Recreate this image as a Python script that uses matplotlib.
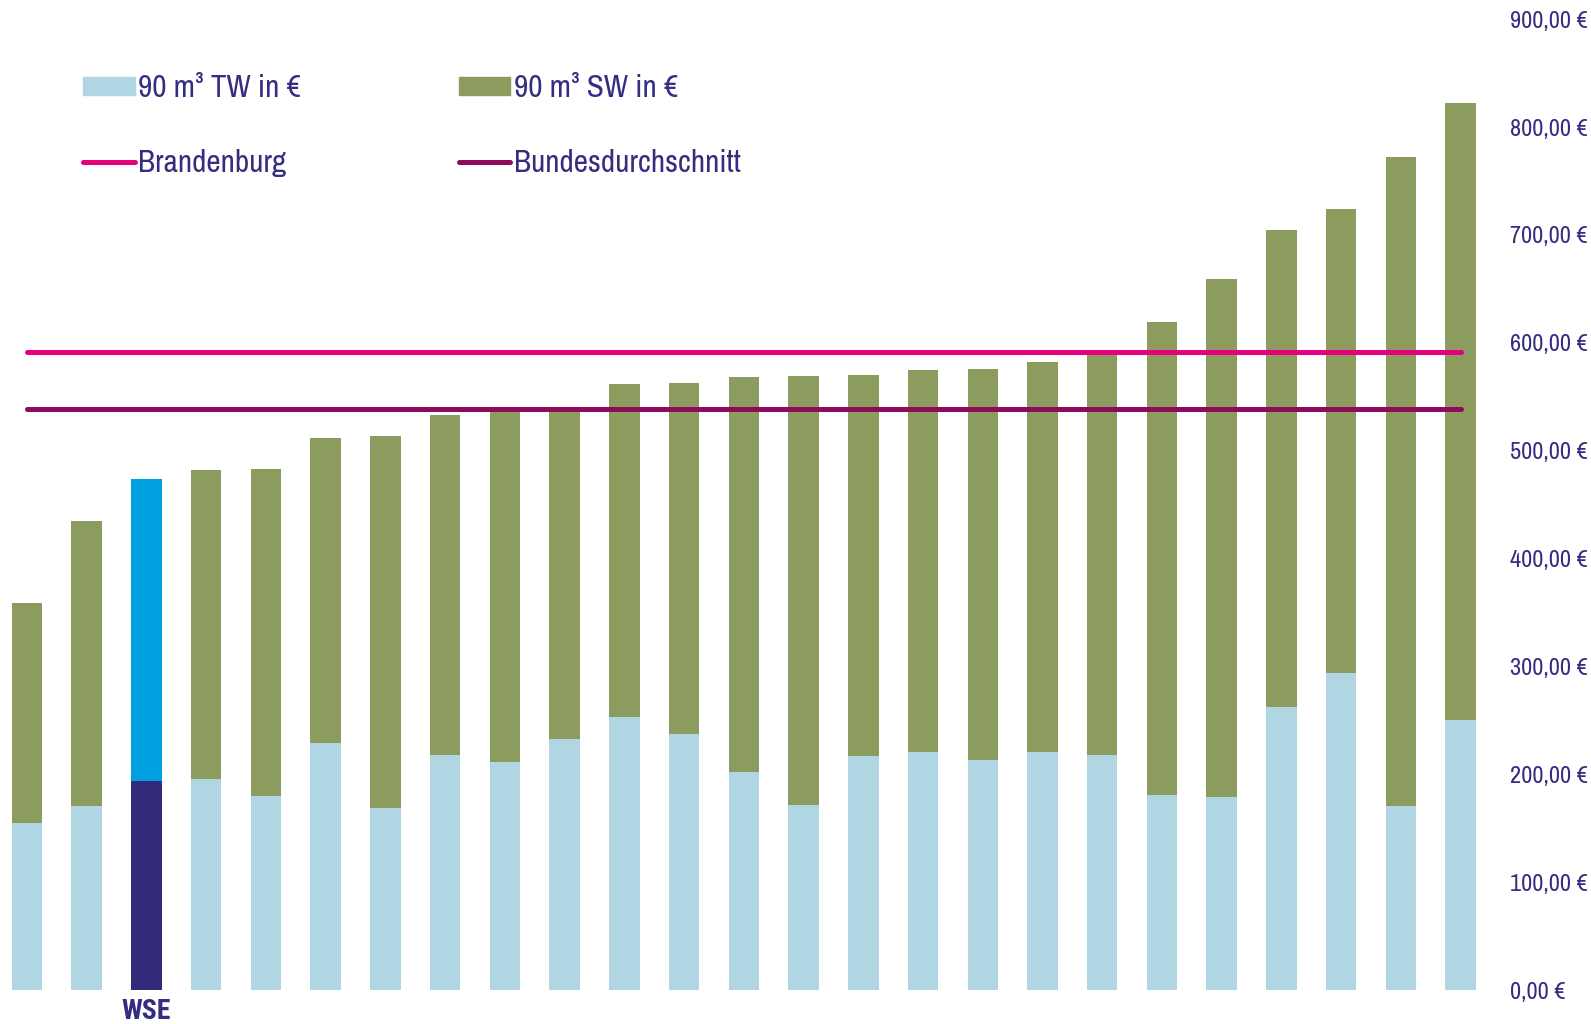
import numpy as np
import matplotlib.pyplot as plt
from matplotlib.patches import Patch
from matplotlib.lines import Line2D

# Wasserpreise (Trinkwasser + Schmutzwasser) fuer 90 m³, sortiert
tw = [155, 171, 194, 196, 180, 229, 169, 218, 211, 233, 253, 237, 202, 171.5,
      217, 220.5, 213, 220.5, 218, 181, 179, 262, 294, 171, 250]
total = [359, 435, 474, 482, 483, 512, 514, 533, 537, 540, 561.5, 563, 568, 569.5,
         570, 574.5, 575.5, 582, 589, 619, 659, 705, 724, 772, 822.5]
sw = [t - w for t, w in zip(total, tw)]
wse_idx = 2
brandenburg = 591.6
bund = 539.0
yticks = [0, 100, 200, 300, 400, 500, 600, 700, 800, 900]
ytick_labels = [f"{v},00 €" for v in yticks]

text_col = '#342d80'
c_tw = '#b0d5e3'
c_sw = '#8c9c5e'
c_wse_tw = '#332a7c'
c_wse_sw = '#009fe0'
c_bb = '#e6007e'
c_bund = '#8e0a5a'

plt.rcParams['font.family'] = ['Archivo Narrow', 'Roboto Condensed', 'DejaVu Sans']

fig = plt.figure(figsize=(15.91, 10.24), dpi=100)
ax = fig.add_axes([0.0, 0.0332, 0.935, 0.948])

x = np.arange(len(tw))
col_tw = [c_wse_tw if i == wse_idx else c_tw for i in x]
col_sw = [c_wse_sw if i == wse_idx else c_sw for i in x]
ax.bar(x, tw, width=0.51, color=col_tw, zorder=2)
ax.bar(x, sw, width=0.51, bottom=tw, color=col_sw, zorder=2)

ax.plot([x[0], x[-1]], [brandenburg, brandenburg], color=c_bb, lw=3.6,
        solid_capstyle='round', zorder=3)
ax.plot([x[0], x[-1]], [bund, bund], color=c_bund, lw=3.6,
        solid_capstyle='round', zorder=3)

ax.set_xlim(-0.45, 24.45)
ax.set_ylim(0, 900)
for s in ax.spines.values():
    s.set_visible(False)
ax.yaxis.tick_right()
ax.set_yticks(yticks, ytick_labels)
ax.tick_params(axis='y', length=0, pad=16, labelsize=17.5, labelcolor=text_col)
ax.set_xticks([wse_idx], ['WSE'])
ax.tick_params(axis='x', length=0, pad=6, labelsize=20, labelcolor=text_col)
for lab in ax.get_xticklabels():
    lab.set_family(['Roboto Condensed', 'DejaVu Sans'])
    lab.set_fontweight('bold')

handles = [Patch(color=c_tw), Line2D([], [], color=c_bb, lw=3.6, solid_capstyle='round'),
           Patch(color=c_sw), Line2D([], [], color=c_bund, lw=3.6, solid_capstyle='round')]
labels = ['90 m³ TW in €', 'Brandenburg', '90 m³ SW in €', 'Bundesdurchschnitt']
leg = fig.legend(handles, labels, ncol=2, loc='upper left',
                 bbox_to_anchor=(83 / 1591, 1 - 74 / 1024), frameon=False,
                 fontsize=22.5, handlelength=1.65, handleheight=0.55, handletextpad=0.12,
                 columnspacing=5.05, labelspacing=1.5, borderpad=0, borderaxespad=0)
for t in leg.get_texts():
    t.set_color(text_col)

fig.savefig('out.png', dpi=100)
